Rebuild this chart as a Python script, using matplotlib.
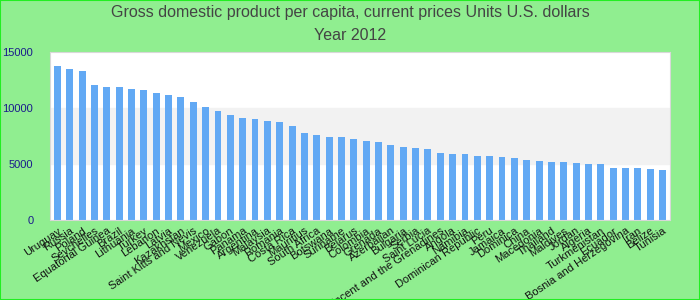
import matplotlib
matplotlib.use('Agg')
import matplotlib.pyplot as plt
import numpy as np

plt.rcParams['font.family'] = ['Liberation Sans', 'DejaVu Sans']

countries = ['Uruguay', 'Russia', 'Poland', 'Seychelles', 'Equatorial Guinea', 'Brazil',
             'Lithuania', 'Turkey', 'Lebanon', 'Latvia', 'Kazakhstan',
             'Saint Kitts and Nevis', 'Mexico', 'Venezuela', 'Gabon', 'Panama',
             'Argentina', 'Malaysia', 'Romania', 'Costa Rica', 'Mauritius',
             'South Africa', 'Botswana', 'Suriname', 'Belarus', 'Colombia', 'Grenada',
             'Azerbaijan', 'Bulgaria', 'Serbia', 'Saint Lucia',
             'Saint Vincent and the Grenadines', 'Angola', 'Namibia',
             'Dominican Republic', 'Peru', 'Jamaica', 'Dominica', 'China', 'Macedonia',
             'Thailand', 'Maldives', 'Jordan', 'Algeria', 'Turkmenistan', 'Ecuador',
             'Bosnia and Herzegovina', 'Iran', 'Belize', 'Tunisia']
gdp = [13750, 13480, 13300, 12050, 11870, 11870, 11700, 11600, 11340, 11160,
       10980, 10540, 10090, 9730, 9380, 9110, 9020, 8840, 8750, 8390,
       7770, 7590, 7410, 7410, 7230, 7050, 6960, 6700, 6520, 6430,
       6340, 5980, 5890, 5890, 5710, 5710, 5630, 5540, 5360, 5270,
       5180, 5180, 5090, 5000, 5000, 4640, 4640, 4640, 4550, 4460]
yticks = [0, 5000, 10000, 15000]

fig = plt.figure(figsize=(7, 3), dpi=100, facecolor='#90ee90')
fig.patches.append(plt.Rectangle((0, 0), 1, 1, transform=fig.transFigure,
                                 fill=False, edgecolor='#22ee22', linewidth=1.5))
ax = fig.add_axes([50/700, 1-220/300, 620/700, 168/300])
ax.set_facecolor('white')
ax.axhspan(5000, 10000, color='#f2f2f2', zorder=0)

x = np.arange(len(countries))
ax.bar(x, gdp, width=0.56, color='#62a9f4', zorder=2)
ax.set_xlim(-0.6, len(countries) - 0.4)
ax.set_ylim(0, 15000)
ax.set_yticks(yticks)
ax.set_yticklabels([str(v) for v in yticks], color='#1a1a8c', fontsize=8)
ax.set_xticks(x)
ax.set_xticklabels(countries, rotation=34, ha='right', rotation_mode='anchor',
                   fontsize=8, color='#111111')
ax.tick_params(axis='both', length=0)
ax.tick_params(axis='y', pad=12)
ax.tick_params(axis='x', pad=4)
for s in ax.spines.values():
    s.set_color('#d8d8d8')

fig.text(0.5, 1-12/300, 'Gross domestic product per capita, current prices Units U.S. dollars',
         ha='center', va='center', fontsize=11.5, color='#444444')
fig.text(0.5, 1-36/300, 'Year 2012', ha='center', va='center', fontsize=11.5, color='#444444')

fig.savefig('out.png', dpi=100, facecolor=fig.get_facecolor())
